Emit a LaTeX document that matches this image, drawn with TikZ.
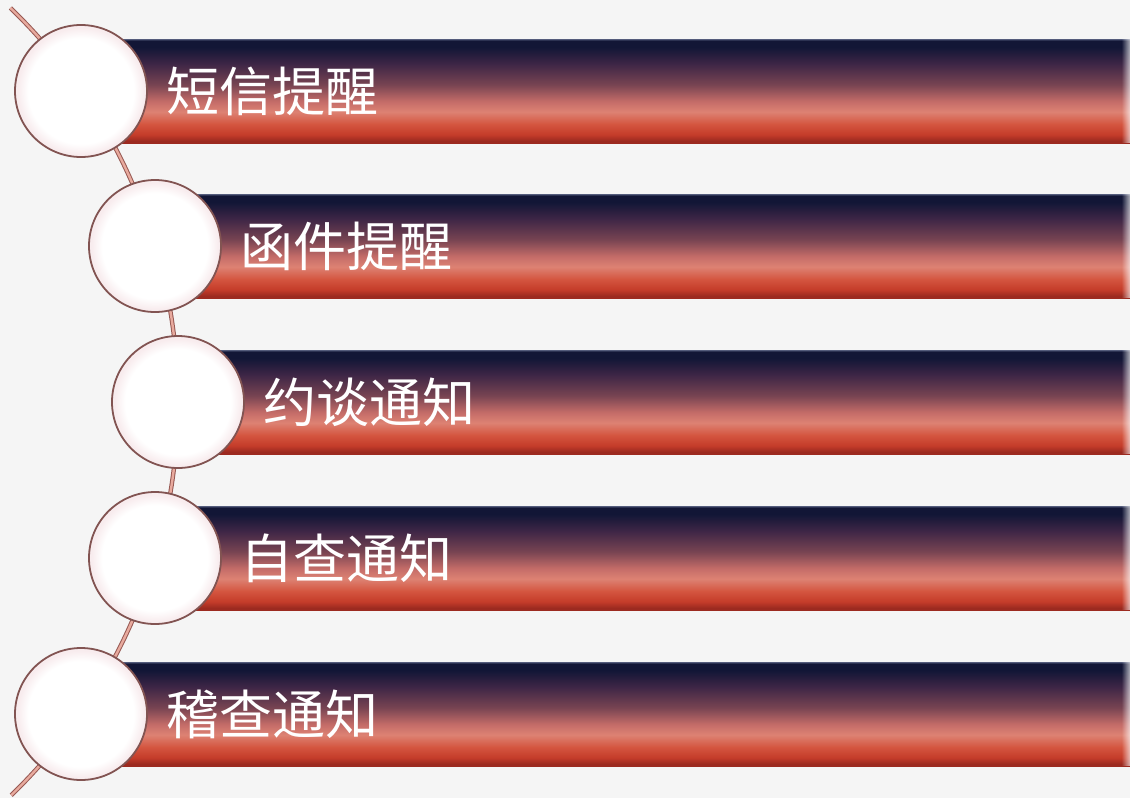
\documentclass[tikz,border=0pt]{standalone}
\usepackage{fontspec}
\newfontfamily\cjk{Noto Sans CJK SC}
\usetikzlibrary{positioning,fadings}

\definecolor{paper}{RGB}{245,245,245}
\definecolor{baredge}{RGB}{84,92,124}
\definecolor{barnavy}{RGB}{18,22,54}
\definecolor{barplum}{RGB}{62,38,70}
\definecolor{barmaroon}{RGB}{120,68,82}
\definecolor{barrose}{RGB}{196,108,104}
\definecolor{barsalmon}{RGB}{221,130,115}
\definecolor{barred}{RGB}{212,85,63}
\definecolor{barred2}{RGB}{196,60,42}
\definecolor{bardeep}{RGB}{156,42,32}
\definecolor{ballrim}{RGB}{248,236,238}
\definecolor{ballline}{RGB}{130,84,82}
\definecolor{linkedge}{RGB}{150,88,82}
\definecolor{linkfill}{RGB}{232,170,158}

% bar runs from deep red (bottom) to navy (top)
\pgfdeclareverticalshading{barshade}{100bp}{color(0bp)=(bardeep); color(25bp)=(bardeep);
  color(26bp)=(bardeep); color(29bp)=(barred2); color(34bp)=(barred); color(40bp)=(barsalmon);
  color(45bp)=(barrose); color(53bp)=(barmaroon); color(63bp)=(barplum);
  color(71bp)=(barnavy); color(74.2bp)=(barnavy); color(75bp)=(baredge); color(100bp)=(baredge)}
\pgfdeclareradialshading{ballshade}{\pgfpoint{0bp}{0bp}}{color(0bp)=(white); color(20bp)=(white);
  color(24bp)=(ballrim); color(25bp)=(ballrim); color(50bp)=(ballrim)}
\tikzfading[name=barglint, left color=transparent!100, right color=transparent!30]

\begin{document}
\begin{tikzpicture}[x=1pt,y=-1pt,
  bar node/.style={rectangle,anchor=west,inner sep=0pt,minimum height=104pt,shading=barshade},
  ball/.style={circle,inner sep=0pt,minimum size=132pt,shading=ballshade,draw=ballline,line width=1.8pt},
  link/.style={draw=linkedge,double=linkfill,double distance=2.4pt,line width=1pt},
  label node/.style={text=white,inner sep=0pt,font=\cjk\fontsize{53}{60}\selectfont}]

  \useasboundingbox (0,0) rectangle (1130,798);
  \fill[paper] (0,0) rectangle (1130,798);

  % bars
  \node[bar node,minimum width=1049pt] (b1) at (81,91) {};
  \node[bar node,minimum width=975pt] (b2) at (155,246) {};
  \node[bar node,minimum width=952pt] (b3) at (178,402) {};
  \node[bar node,minimum width=975pt] (b4) at (155,558) {};
  \node[bar node,minimum width=1049pt] (b5) at (81,714) {};
  \foreach \b in {b1,b2,b3,b4,b5}
    \fill[white,path fading=barglint] ([xshift=-9pt]\b.north east) rectangle (\b.south east);

  % the arc through the balls
  \coordinate (arctop) at (10.4,8);
  \draw[link] (arctop) arc[start angle=46.08,end angle=-45.96,radius=547pt] coordinate (arcend);

  \node[ball] (1) at (81,91) {};
  \node[ball] (2) at (155,246) {};
  \node[ball] (3) at (178,402) {};
  \node[ball] (4) at (155,558) {};
  \node[ball] (5) at (81,714) {};

  \node[label node,right=18pt of 1] (t1) {短信提醒};
  \node[label node,right=18pt of 2] (t2) {函件提醒};
  \node[label node,right=18pt of 3] (t3) {约谈通知};
  \node[label node,right=18pt of 4] (t4) {自查通知};
  \node[label node,right=18pt of 5] (t5) {稽查通知};
\end{tikzpicture}
\end{document}
